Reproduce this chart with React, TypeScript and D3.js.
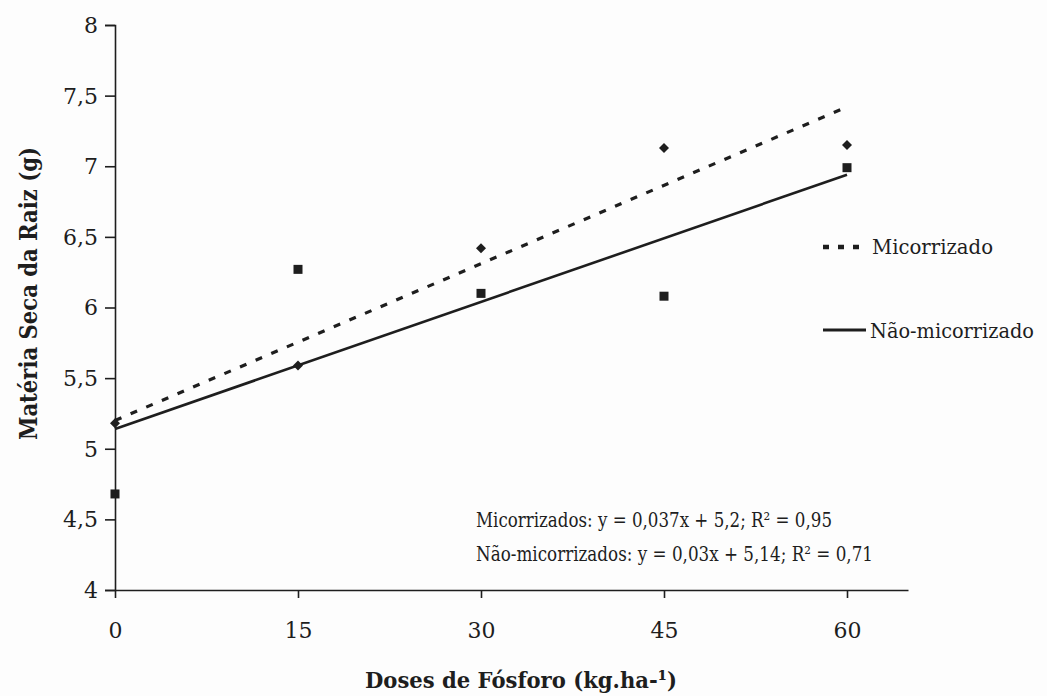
import React, { useEffect, useRef } from 'react';
import * as d3 from 'd3';

// doses de fósforo (kg/ha) e matéria seca da raiz (g)
const doses = [0, 15, 30, 45, 60];
const micorrizado = [5.18, 5.59, 6.42, 7.13, 7.15];
const naoMicorrizado = [4.68, 6.27, 6.1, 6.08, 6.99];

// regressões lineares [inclinação, intercepto]
const fitMicorrizado = [0.037, 5.2];
const fitNaoMicorrizado = [0.03, 5.14];

const xTicks = [0, 15, 30, 45, 60];
const yTicks = [4, 4.5, 5, 5.5, 6, 6.5, 7, 7.5, 8];

const equations = [
  'Micorrizados: y = 0,037x + 5,2;  R² = 0,95',
  'Não-micorrizados: y = 0,03x + 5,14;  R² = 0,71',
];
const legendLabels = ['Micorrizado', 'Não-micorrizado'];

const W = 1047;
const H = 696;
const ink = '#1e1e1e';
const font = "'DejaVu Serif', 'Liberation Serif', serif";

const App = () => {
  const xAxisRef = useRef(null);
  const yAxisRef = useRef(null);

  const x = d3.scaleLinear().domain([0, 65]).range([115, 908]);
  const y = d3.scaleLinear().domain([4, 8]).range([590, 25]);

  useEffect(() => {
    const fmt = (d) => String(d).replace('.', ',');

    const gx = d3.select(xAxisRef.current);
    gx.selectAll('*').remove();
    gx.call(d3.axisBottom(x).tickValues(xTicks).tickSize(8).tickSizeOuter(0).tickFormat(fmt));
    gx.attr('font-family', null);
    gx.selectAll('path, line').attr('stroke', ink).attr('stroke-width', 1.6);
    gx.selectAll('text')
      .attr('fill', ink)
      .attr('dy', 0)
      .attr('y', 48)
      .style('font-family', font)
      .attr('font-size', 22);

    const gy = d3.select(yAxisRef.current);
    gy.selectAll('*').remove();
    gy.call(d3.axisLeft(y).tickValues(yTicks).tickSize(10).tickSizeOuter(10).tickFormat(fmt));
    gy.attr('font-family', null);
    gy.selectAll('path, line').attr('stroke', ink).attr('stroke-width', 1.6);
    gy.selectAll('text')
      .attr('fill', ink)
      .attr('x', -17)
      .attr('dy', '0.34em')
      .style('font-family', font)
      .attr('font-size', 22);
  }, []);

  const fitLine = (fit) =>
    d3.line()(doses.filter((_, i) => i === 0 || i === doses.length - 1).map((d) => [x(d), y(fit[0] * d + fit[1])]));

  const diamond = d3.symbol().type(d3.symbolSquare).size(50)();

  return (
    <svg
      width={W}
      height={H}
      style={{ position: 'absolute', left: 0, top: 0, background: '#fdfdfd', fontFamily: font }}
    >
      <g ref={yAxisRef} transform={`translate(${x(0)},0)`} />
      <g ref={xAxisRef} transform={`translate(0,${y(4)})`} />

      {/* linhas de tendência */}
      <path d={fitLine(fitMicorrizado)} fill="none" stroke={ink} strokeWidth={3.2} strokeDasharray="7 10" />
      <path d={fitLine(fitNaoMicorrizado)} fill="none" stroke={ink} strokeWidth={2.6} />

      {/* pontos */}
      {doses.map((d, i) => (
        <path
          key={'m' + i}
          d={diamond}
          transform={`translate(${x(d)},${y(micorrizado[i])}) rotate(45)`}
          fill={ink}
        />
      ))}
      {doses.map((d, i) => (
        <rect
          key={'n' + i}
          x={x(d) - 4.5}
          y={y(naoMicorrizado[i]) - 4.5}
          width={9}
          height={9}
          fill={ink}
        />
      ))}

      {/* legenda */}
      <line x1={823} x2={862} y1={247} y2={247} stroke={ink} strokeWidth={4.5} strokeDasharray="6 9" />
      <text x={872} y={254} fontSize={21} fill={ink} textLength={121} lengthAdjust="spacingAndGlyphs">
        {legendLabels[0]}
      </text>
      <line x1={823} x2={866} y1={330} y2={330} stroke={ink} strokeWidth={2.8} />
      <text x={870} y={338} fontSize={20} fill={ink} textLength={164} lengthAdjust="spacingAndGlyphs">
        {legendLabels[1]}
      </text>

      {/* equações */}
      <text x={476} y={527} fontSize={21} fill={ink} textLength={356} lengthAdjust="spacingAndGlyphs">
        {equations[0]}
      </text>
      <text x={476} y={561} fontSize={21} fill={ink} textLength={397} lengthAdjust="spacingAndGlyphs">
        {equations[1]}
      </text>

      {/* títulos dos eixos */}
      <text
        x={365}
        y={688}
        fontSize={23}
        fontWeight="bold"
        fill={ink}
        textLength={312}
        lengthAdjust="spacingAndGlyphs"
      >
        Doses de Fósforo (kg.ha-¹)
      </text>
      <text
        transform="translate(37,440) rotate(-90)"
        fontSize={24}
        fontWeight="bold"
        fill={ink}
        textLength={293}
        lengthAdjust="spacingAndGlyphs"
      >
        Matéria Seca da Raiz (g)
      </text>
    </svg>
  );
};

export default App;
